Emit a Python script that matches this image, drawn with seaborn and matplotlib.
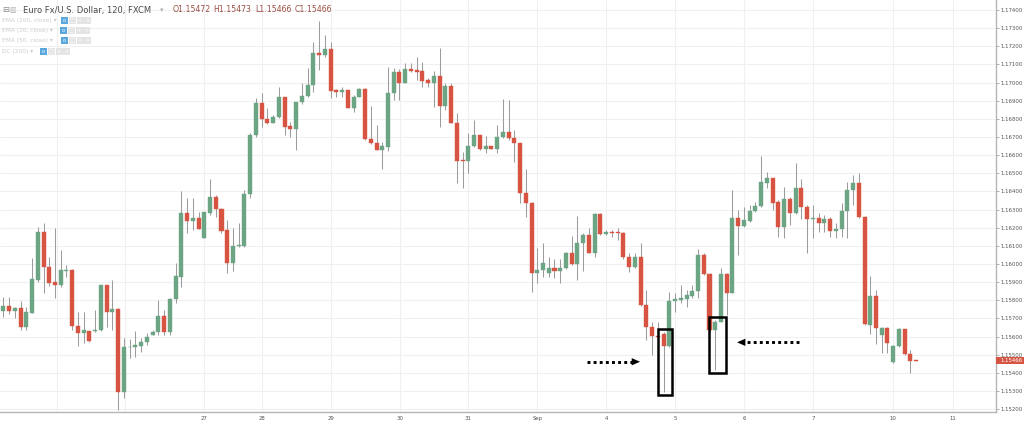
import numpy as np
import pandas as pd
import matplotlib
matplotlib.use("Agg")
import matplotlib.pyplot as plt
import matplotlib.transforms as mtransforms
from matplotlib.patches import Rectangle, Polygon
import seaborn as sns

# EUR/USD 120 min candles
opens = [
    1.15742, 1.15768, 1.15742, 1.15755, 1.15654, 1.15731, 1.15912, 1.16178, 1.15981, 1.15901,
    1.15886, 1.15963, 1.15967, 1.15658, 1.15618, 1.15632, 1.15630, 1.15636, 1.15884, 1.15737,
    1.15754, 1.15292, 1.15540, 1.15544, 1.15550, 1.15568, 1.15608, 1.15627, 1.15713, 1.15625,
    1.15807, 1.15928, 1.16279, 1.16237, 1.16255, 1.16141, 1.16279, 1.16367, 1.16301, 1.16187,
    1.16007, 1.16097, 1.16099, 1.16385, 1.16711, 1.16885, 1.16797, 1.16779, 1.16812, 1.16918,
    1.16760, 1.16742, 1.16891, 1.16926, 1.16986, 1.17165, 1.17152, 1.17183, 1.16959, 1.16946,
    1.16959, 1.16861, 1.16922, 1.16963, 1.16687, 1.16668, 1.16628, 1.16646, 1.16941, 1.17058,
    1.16999, 1.17073, 1.17069, 1.17065, 1.17014, 1.16996, 1.17036, 1.16871, 1.16981, 1.16779,
    1.16573, 1.16569, 1.16652, 1.16711, 1.16632, 1.16652, 1.16633, 1.16698, 1.16729, 1.16692,
    1.16665, 1.16393, 1.16338, 1.15948, 1.15966, 1.15948, 1.15976, 1.15963, 1.15976, 1.16062,
    1.16000, 1.16114, 1.16161, 1.16062, 1.16273, 1.16165, 1.16178, 1.16174, 1.16169, 1.16036,
    1.15985, 1.16040, 1.15773, 1.15650, 1.15603, 1.15614, 1.15547, 1.15797, 1.15801, 1.15805,
    1.15823, 1.15853, 1.16049, 1.15944, 1.15636, 1.15682, 1.15945, 1.15842, 1.16251, 1.16209,
    1.16239, 1.16292, 1.16321, 1.16448, 1.16472, 1.16340, 1.16205, 1.16356, 1.16283, 1.16417,
    1.16312, 1.16246, 1.16255, 1.16228, 1.16246, 1.16184, 1.16191, 1.16294, 1.16408, 1.16444,
    1.16257, 1.15663, 1.15823, 1.15608, 1.15645, 1.15461, 1.15548, 1.15639, 1.15503, 1.15472,
]
highs = [
    1.15820, 1.15816, 1.15765, 1.15798, 1.15765, 1.16031, 1.16206, 1.16228, 1.16037, 1.16196,
    1.16077, 1.15994, 1.15970, 1.15737, 1.15737, 1.15632, 1.15746, 1.15884, 1.15884, 1.15912,
    1.15755, 1.15590, 1.15584, 1.15632, 1.15590, 1.15621, 1.15636, 1.15801, 1.15746, 1.15810,
    1.16003, 1.16402, 1.16362, 1.16362, 1.16288, 1.16288, 1.16470, 1.16380, 1.16307, 1.16242,
    1.16196, 1.16224, 1.16408, 1.16720, 1.16917, 1.16941, 1.16858, 1.16821, 1.16974, 1.16918,
    1.16784, 1.16895, 1.16996, 1.17078, 1.17225, 1.17341, 1.17262, 1.17225, 1.16963, 1.16974,
    1.16959, 1.16931, 1.16968, 1.16968, 1.16871, 1.16766, 1.16674, 1.17088, 1.17078, 1.17073,
    1.17106, 1.17106, 1.17143, 1.17115, 1.17023, 1.17065, 1.17189, 1.16996, 1.16999, 1.16830,
    1.16619, 1.16724, 1.16793, 1.16711, 1.16705, 1.16652, 1.16766, 1.16907, 1.16904, 1.16738,
    1.16669, 1.16521, 1.16343, 1.16086, 1.16114, 1.16040, 1.16025, 1.16025, 1.16068, 1.16154,
    1.16264, 1.16169, 1.16196, 1.16279, 1.16279, 1.16187, 1.16187, 1.16196, 1.16178, 1.16058,
    1.16062, 1.16114, 1.15856, 1.15682, 1.15682, 1.15626, 1.15847, 1.15838, 1.15884, 1.15856,
    1.15884, 1.16080, 1.16062, 1.15950, 1.15691, 1.15976, 1.15948, 1.16408, 1.16297, 1.16316,
    1.16325, 1.16343, 1.16595, 1.16509, 1.16472, 1.16353, 1.16422, 1.16367, 1.16558, 1.16467,
    1.16325, 1.16325, 1.16279, 1.16270, 1.16257, 1.16224, 1.16334, 1.16454, 1.16490, 1.16500,
    1.16264, 1.15934, 1.15856, 1.15654, 1.15654, 1.15553, 1.15645, 1.15639, 1.15525, 1.15473,
]
lows = [
    1.15709, 1.15724, 1.15700, 1.15636, 1.15636, 1.15728, 1.15902, 1.15838, 1.15878, 1.15810,
    1.15875, 1.15930, 1.15636, 1.15548, 1.15562, 1.15570, 1.15625, 1.15632, 1.15654, 1.15636,
    1.15195, 1.15259, 1.15480, 1.15489, 1.15516, 1.15553, 1.15606, 1.15608, 1.15608, 1.15608,
    1.15783, 1.15875, 1.16169, 1.16187, 1.16191, 1.16141, 1.16270, 1.16261, 1.16173, 1.15948,
    1.15963, 1.16095, 1.16095, 1.16365, 1.16701, 1.16757, 1.16771, 1.16775, 1.16803, 1.16711,
    1.16701, 1.16628, 1.16882, 1.16918, 1.16950, 1.17069, 1.17143, 1.16913, 1.16922, 1.16922,
    1.16858, 1.16839, 1.16918, 1.16683, 1.16661, 1.16628, 1.16521, 1.16624, 1.16904, 1.16904,
    1.16996, 1.17060, 1.17014, 1.16974, 1.16974, 1.16863, 1.16757, 1.16849, 1.16775, 1.16444,
    1.16417, 1.16503, 1.16646, 1.16628, 1.16610, 1.16633, 1.16610, 1.16692, 1.16683, 1.16564,
    1.16334, 1.16261, 1.15847, 1.15897, 1.15930, 1.15930, 1.15921, 1.15893, 1.15970, 1.15994,
    1.15911, 1.15963, 1.16058, 1.16036, 1.16159, 1.16159, 1.16150, 1.16132, 1.16025, 1.15957,
    1.15976, 1.15768, 1.15580, 1.15498, 1.15507, 1.15294, 1.15544, 1.15737, 1.15783, 1.15764,
    1.15810, 1.15810, 1.15939, 1.15627, 1.15415, 1.15682, 1.15718, 1.15838, 1.16049, 1.16202,
    1.16233, 1.16288, 1.16316, 1.16417, 1.16297, 1.16147, 1.16141, 1.16215, 1.16275, 1.16246,
    1.16058, 1.16141, 1.16178, 1.16178, 1.16150, 1.16141, 1.16150, 1.16141, 1.16325, 1.16251,
    1.15663, 1.15614, 1.15559, 1.15507, 1.15507, 1.15456, 1.15544, 1.15498, 1.15397, 1.15466,
]
closes = [
    1.15768, 1.15742, 1.15757, 1.15654, 1.15733, 1.15915, 1.16178, 1.15981, 1.15897, 1.15882,
    1.15967, 1.15969, 1.15660, 1.15618, 1.15636, 1.15573, 1.15636, 1.15884, 1.15737, 1.15754,
    1.15296, 1.15540, 1.15544, 1.15553, 1.15570, 1.15599, 1.15627, 1.15713, 1.15625, 1.15809,
    1.15934, 1.16279, 1.16237, 1.16255, 1.16195, 1.16285, 1.16367, 1.16301, 1.16184, 1.16007,
    1.16099, 1.16103, 1.16385, 1.16711, 1.16885, 1.16797, 1.16779, 1.16812, 1.16918, 1.16757,
    1.16742, 1.16891, 1.16926, 1.16986, 1.17165, 1.17152, 1.17183, 1.16955, 1.16946, 1.16959,
    1.16861, 1.16922, 1.16963, 1.16687, 1.16665, 1.16628, 1.16650, 1.16941, 1.17058, 1.16999,
    1.17073, 1.17064, 1.17060, 1.17010, 1.16996, 1.17036, 1.16871, 1.16981, 1.16779, 1.16569,
    1.16567, 1.16652, 1.16711, 1.16632, 1.16652, 1.16633, 1.16701, 1.16729, 1.16692, 1.16665,
    1.16393, 1.16338, 1.15948, 1.15966, 1.16007, 1.15976, 1.15963, 1.15976, 1.16062, 1.16000,
    1.16114, 1.16161, 1.16062, 1.16273, 1.16165, 1.16178, 1.16172, 1.16169, 1.16036, 1.15985,
    1.16040, 1.15773, 1.15650, 1.15603, 1.15595, 1.15547, 1.15797, 1.15805, 1.15810, 1.15829,
    1.15853, 1.16049, 1.15944, 1.15636, 1.15682, 1.15945, 1.15842, 1.16251, 1.16209, 1.16242,
    1.16294, 1.16321, 1.16454, 1.16472, 1.16338, 1.16205, 1.16356, 1.16283, 1.16417, 1.16312,
    1.16246, 1.16255, 1.16228, 1.16246, 1.16184, 1.16195, 1.16294, 1.16408, 1.16444, 1.16257,
    1.15669, 1.15823, 1.15645, 1.15645, 1.15562, 1.15548, 1.15639, 1.15503, 1.15467, 1.15466,
]

# day separators (bar positions) and their labels
day_ticks = [35, 45, 57.1, 69.1, 81, 93, 105, 117, 129, 141.1, 155, 165.4]
day_labels = ["27", "28", "29", "30", "31", "Sep", "4", "5", "6", "7", "10", "11"]
unlabeled_days = [9.35, 21.2]

# highlighted candles and the arrows pointing at them
box_bars = [115, 124]
box_widths = [(1.0, 1.5), (1.1, 1.85)]
arrows = [(101.7, 110.9, 1.15461), (138.6, 127.8, 1.15568)]

UP = "#6ba583"
DOWN = "#d75442"
WICK = "#9c9c9c"
GRID = "#f0f0f2"
TXT = "#555555"

W, H = 1024, 425


def px(x, y):
    return x / W, 1 - y / H


def main():
    sns.set_style("white")
    plt.rcParams["font.family"] = ["DejaVu Sans"]

    df = pd.DataFrame({"open": opens, "high": highs, "low": lows, "close": closes})
    df["bar"] = np.arange(len(df))
    df["color"] = np.where(df["close"] >= df["open"], UP, DOWN)
    df["bottom"] = df[["open", "close"]].min(axis=1)
    df["body"] = (df["close"] - df["open"]).abs().clip(lower=0.00003)

    fig = plt.figure(figsize=(W / 100, H / 100), dpi=100)
    ax = fig.add_axes([0, 13 / H, 996 / W, 412 / H])

    price_ticks = np.round(np.arange(1.152, 1.1745, 0.001), 3)
    for y in price_ticks:
        ax.axhline(y, color=GRID, lw=0.8, zorder=0)
    for x in day_ticks + unlabeled_days:
        ax.axvline(x, color=GRID, lw=0.8, zorder=0)

    ax.vlines(df["bar"], df["low"], df["high"], color=WICK, lw=0.75, zorder=2)
    ax.bar(df["bar"], df["body"], bottom=df["bottom"], width=0.7,
           color=df["color"], edgecolor=df["color"], linewidth=0.3, zorder=3)

    ax.set_xlim(-0.58, 172.9)
    ax.set_ylim(1.15184, 1.17455)

    ax.yaxis.tick_right()
    ax.set_yticks(price_ticks)
    ax.set_yticklabels([f"{v:.5f}" for v in price_ticks])
    ax.tick_params(axis="y", length=2, width=0.6, color="#a0a0a0",
                   labelsize=3.9, labelcolor=TXT, pad=1)
    ax.set_xticks(day_ticks)
    ax.set_xticklabels(day_labels)
    ax.tick_params(axis="x", length=0, labelsize=3.9, labelcolor=TXT, pad=3)
    for side in ["top", "left"]:
        ax.spines[side].set_visible(False)
    for side in ["right", "bottom"]:
        ax.spines[side].set_color("#b5b5b5")
        ax.spines[side].set_linewidth(1.0)

    # last price tag on the price scale
    last = closes[-1]
    blend = mtransforms.blended_transform_factory(ax.transAxes, ax.transData)
    half = 0.0002
    ax.add_patch(Rectangle((1.0, last - half), 28 / 996, 2 * half, transform=blend,
                           fc=DOWN, ec="none", clip_on=False, zorder=6))
    ax.text(1.004, last, f"{last:.5f}", transform=blend, ha="left", va="center",
            fontsize=3.9, color="white", clip_on=False, zorder=7)

    # boxes round the two candles
    for b, (lp, rp) in zip(box_bars, box_widths):
        y0 = df.loc[b, "low"] - 0.00016
        y1 = df.loc[b, "high"] + 0.00018
        ax.add_patch(Rectangle((b - lp, y0), lp + rp, y1 - y0, fill=False,
                               ec="black", lw=1.8, zorder=5))

    # dotted arrows
    for x0, x1, y in arrows:
        d = 1 if x1 > x0 else -1
        ax.plot([x0, x1 - d * 1.3], [y, y], color="black", lw=2.1,
                ls=(0, (1, 1.1)), zorder=5)
        ax.add_patch(Polygon([(x1, y), (x1 - d * 1.45, y + 0.0002), (x1 - d * 1.45, y - 0.0002)],
                             closed=True, fc="black", ec="none", zorder=5))

    # header legend
    yh = 10
    fig.text(*px(2, yh), "\u229f", fontsize=6, color="#8a8a8a", va="center")
    fig.text(*px(9, yh), "\u25a5", fontsize=5, color="#b0b0b0", va="center")
    fig.text(*px(23, yh), "Euro Fx/U.S. Dollar, 120, FXCM", fontsize=6, color="#4a4a4a", va="center")
    fig.text(*px(160, yh), "\u25be", fontsize=5, color="#b0b0b0", va="center")
    for xx, lab in [(173, "O1.15472"), (213, "H1.15473"), (255, "L1.15466"), (295, "C1.15466")]:
        fig.text(*px(xx, yh), lab, fontsize=5.6, color="#9a4e42", va="center")

    studies = [("EMA (200, close) \u25be", 20.7, 61), ("EMA (20, close) \u25be", 30.7, 60),
               ("EMA (50, close) \u25be", 40.7, 61), ("DC (200) \u25be", 51.7, 40)]
    glyphs = ["o", "\u25a1", "+", "\u00d7"]
    for label, yy, x0 in studies:
        fig.text(*px(2, yy), label, fontsize=4.2, color="#cdcdcd", va="center")
        for k, g in enumerate(glyphs):
            xx = x0 + k * 7.8
            fc = "#5aa7de" if k == 0 else "#e4e4e4"
            fig.patches.append(Rectangle(px(xx, yy + 3.5), 7 / W, 7 / H,
                                         transform=fig.transFigure, fc=fc, ec="none"))
            fig.text(*px(xx + 3.5, yy), g, fontsize=3.6, color="white", ha="center", va="center")

    fig.savefig("out.png", dpi=100)
    plt.close(fig)


if __name__ == "__main__":
    main()
